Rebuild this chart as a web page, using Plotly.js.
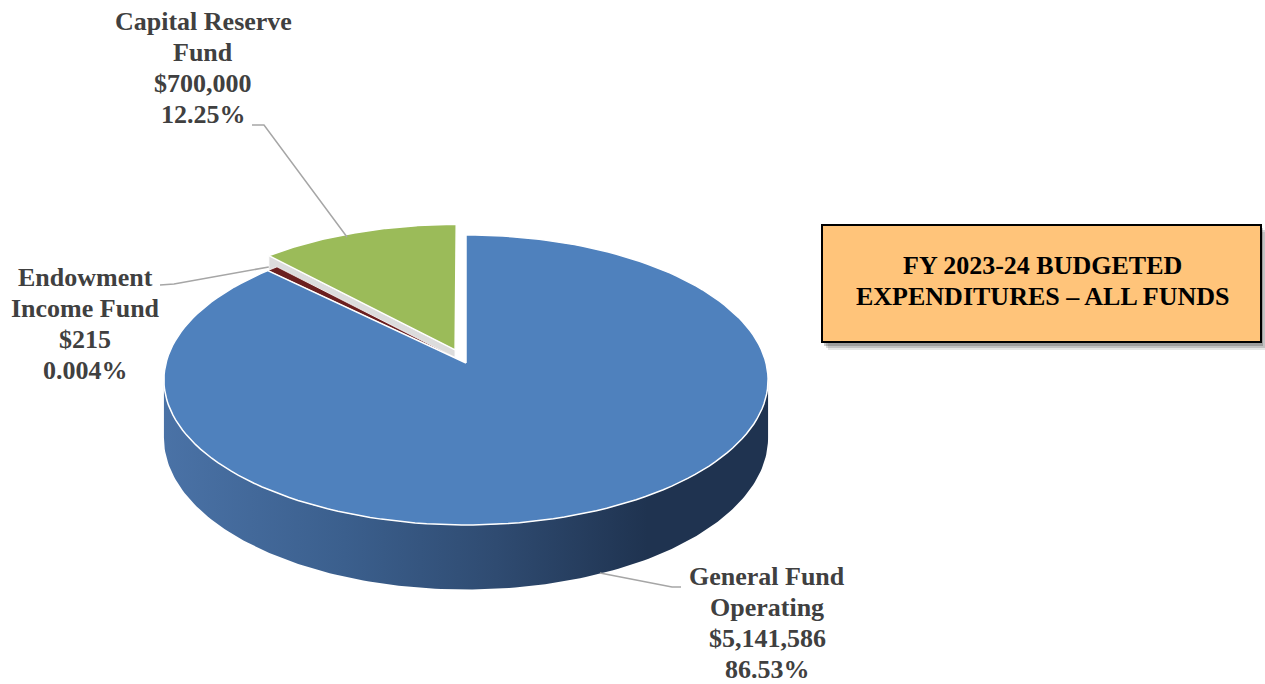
<!DOCTYPE html>
<html>
<head>
<meta charset="utf-8">
<script src="https://cdn.plot.ly/plotly-3.0.1.min.js"></script>
<style>html,body{margin:0;padding:0;background:#fff;}#chart{width:1265px;height:684px;}</style>
</head>
<body>
<div id="chart"></div>
<script>
// ---------------- DATA ----------------
const categories   = ['General Fund Operating', 'Endowment Income Fund', 'Capital Reserve Fund'];
const nameLine1    = ['General Fund', 'Endowment', 'Capital Reserve'];
const nameLine2    = ['Operating', 'Income Fund', 'Fund'];
const amounts      = [5141586, 215, 700000];
const amountLabels = ['$5,141,586', '$215', '$700,000'];
const percentLabels = ['86.53%', '0.004%', '12.25%'];
const sliceColors  = ['#4f81bd', '#6b1f1f', '#9bbb59'];
const chartTitle   = ['FY 2023-24 BUDGETED', 'EXPENDITURES \u2013 ALL FUNDS'];

// ---------------- GEOMETRY (style) ----------------
const G = {cx: 466, cy: 363, A: 300, B: 143, k: 0.117, depth: 57};
const MIN_VISIBLE_DEG = 2.5;
const EXPLODE = [0, 0, 0.1];
const STEPS = 160;
const LINE_GAP = 31;
const FONT = 'Liberation Serif, Times New Roman, serif';

function proj(u, v, z) {
  const s = 1 / (1 + G.k * v);
  return [G.cx + G.A * u * s, G.cy - G.B * v * s + z * s];
}
function pt(phi, r, off, z) {
  const p = phi * Math.PI / 180;
  return proj(off[0] + r * Math.sin(p), off[1] + r * Math.cos(p), z);
}
function arc(a0, a1, off, z) {
  const out = [];
  for (let i = 0; i <= STEPS; i++) out.push(pt(a0 + (a1 - a0) * i / STEPS, 1, off, z));
  return out;
}
function toXY(pts) { return {x: pts.map(p => p[0]), y: pts.map(p => p[1])}; }

// slice angles from the values
const total = amounts.reduce((a, b) => a + b, 0);
let spans = amounts.map(v => Math.max(v / total * 360, MIN_VISIBLE_DEG));
// keep the full circle: the largest slice gives up what the minimum added
const extra = spans.reduce((a, b) => a + b, 0) - 360;
spans[0] -= extra;
const starts = [];
let acc = 0;
spans.forEach(s => { starts.push(acc); acc += s; });

function offsetFor(i) {
  const mid = (starts[i] + spans[i] / 2) * Math.PI / 180;
  return [EXPLODE[i] * Math.sin(mid), EXPLODE[i] * Math.cos(mid)];
}

const traces = [];
function poly(pts, fill, line, extraProps) {
  const xy = toXY(pts);
  const t = Object.assign({
    type: 'scatter', mode: 'lines', x: xy.x, y: xy.y, fill: 'toself',
    fillcolor: fill, line: line || {width: 0, color: 'rgba(0,0,0,0)'},
    hoverinfo: 'skip', showlegend: false
  }, extraProps || {});
  traces.push(t);
}

// Capital reserve (exploded) : cut face first, then top
{
  const i = 2, off = offsetFor(i), a0 = starts[i], a1 = starts[i] + spans[i];
  const face = [pt(a0, 0, off, 0), pt(a0, 1, off, 0), pt(a0, 1, off, G.depth), pt(a0, 0, off, G.depth)];
  face.push(face[0]);
  poly(face, '#dcdcdc', {color: '#ffffff', width: 1});
  const top = [pt(a0, 0, off, 0)].concat(arc(a0, a1, off, 0)).concat([pt(a0, 0, off, 0)]);
  poly(top, sliceColors[i], {color: '#ffffff', width: 1.5});
}
// Endowment (tiny)
{
  const i = 1, off = offsetFor(i), a0 = starts[i], a1 = starts[i] + spans[i];
  const top = [pt(a0, 0, off, 0)].concat(arc(a0, a1, off, 0)).concat([pt(a0, 0, off, 0)]);
  poly(top, sliceColors[i], {color: '#ffffff', width: 0.8});
}
// General fund: front wall then top
{
  const i = 0, off = offsetFor(i);
  const sil = Math.acos(-G.k) * 180 / Math.PI;
  const w0 = Math.max(starts[i], sil), w1 = Math.min(starts[i] + spans[i], 360 - sil);
  const wall = arc(w0, w1, off, 0).concat(arc(w1, w0, off, G.depth));
  wall.push(wall[0]);
  poly(wall, '#2f4c72', null, {
    fillgradient: {type: 'horizontal', colorscale: [
      [0, '#4a72a6'], [0.3, '#3b5f8d'], [0.55, '#2f4b71'], [0.8, '#1f3350'], [1, '#1f3350']]}
  });
  const a0 = starts[i], a1 = starts[i] + spans[i];
  const top = [pt(a0, 0, off, 0)].concat(arc(a0, a1, off, 0)).concat([pt(a0, 0, off, 0)]);
  poly(top, sliceColors[i], {color: '#ffffff', width: 1.5});
}

// leader lines: label end fixed, slice end taken from the slice rim
const endoRim = pt(starts[1] + spans[1] / 2, 1.02, offsetFor(1), 0);
const leaders = [
  {x: [600, 672, 681], y: [573, 587, 587]},
  {x: [160, 174, endoRim[0]], y: [285, 284, endoRim[1]]},
  {x: [252, 264, 347], y: [125, 125, 237]}
];
leaders.forEach(l => traces.push({type: 'scatter', mode: 'lines', x: l.x, y: l.y,
  line: {color: '#a6a6a6', width: 1.5}, hoverinfo: 'skip', showlegend: false}));

// labels: first-line position of each label block
const labelPos = [{x: 767, y: 576}, {x: 85, y: 277}, {x: 203, y: 21}];
const annotations = [];
categories.forEach((c, i) => {
  [nameLine1[i], nameLine2[i], amountLabels[i], percentLabels[i]].forEach((line, j) => {
    annotations.push({
      x: labelPos[i].x, y: labelPos[i].y + j * LINE_GAP, xref: 'x', yref: 'y', showarrow: false,
      xanchor: 'center', yanchor: 'middle', align: 'center', borderpad: 0, text: '<b>' + line + '</b>',
      font: {family: FONT, size: 26, color: '#404040'}
    });
  });
});
chartTitle.forEach((line, j) => annotations.push({
  x: 1042, y: 265 + j * 31.5, xref: 'x', yref: 'y', showarrow: false, xanchor: 'center', yanchor: 'middle',
  align: 'center', borderpad: 0, text: '<b>' + line + '</b>',
  font: {family: FONT, size: 26, color: '#000000'}
}));

const shapes = [
  {type: 'rect', xref: 'x', yref: 'y', x0: 828, x1: 1266, y0: 232, y1: 350, fillcolor: 'rgba(0,0,0,0.10)', line: {width: 0}, layer: 'below'},
  {type: 'rect', xref: 'x', yref: 'y', x0: 826, x1: 1265, y0: 230, y1: 348, fillcolor: 'rgba(0,0,0,0.15)', line: {width: 0}, layer: 'below'},
  {type: 'rect', xref: 'x', yref: 'y', x0: 824, x1: 1263, y0: 228, y1: 346, fillcolor: 'rgba(0,0,0,0.2)', line: {width: 0}, layer: 'below'},
  {type: 'rect', xref: 'x', yref: 'y', x0: 822, x1: 1261, y0: 225, y1: 342, fillcolor: '#ffc47a', line: {color: '#000000', width: 2}, layer: 'below'}
];

const layout = {
  width: 1265, height: 684, autosize: false,
  margin: {l: 0, r: 0, t: 0, b: 0, pad: 0},
  paper_bgcolor: '#ffffff', plot_bgcolor: '#ffffff',
  xaxis: {range: [0, 1265], visible: false, fixedrange: true},
  yaxis: {range: [684, 0], visible: false, fixedrange: true},
  showlegend: false, annotations: annotations, shapes: shapes
};
Plotly.newPlot('chart', traces, layout, {displayModeBar: false, staticPlot: true});
</script>
</body>
</html>
